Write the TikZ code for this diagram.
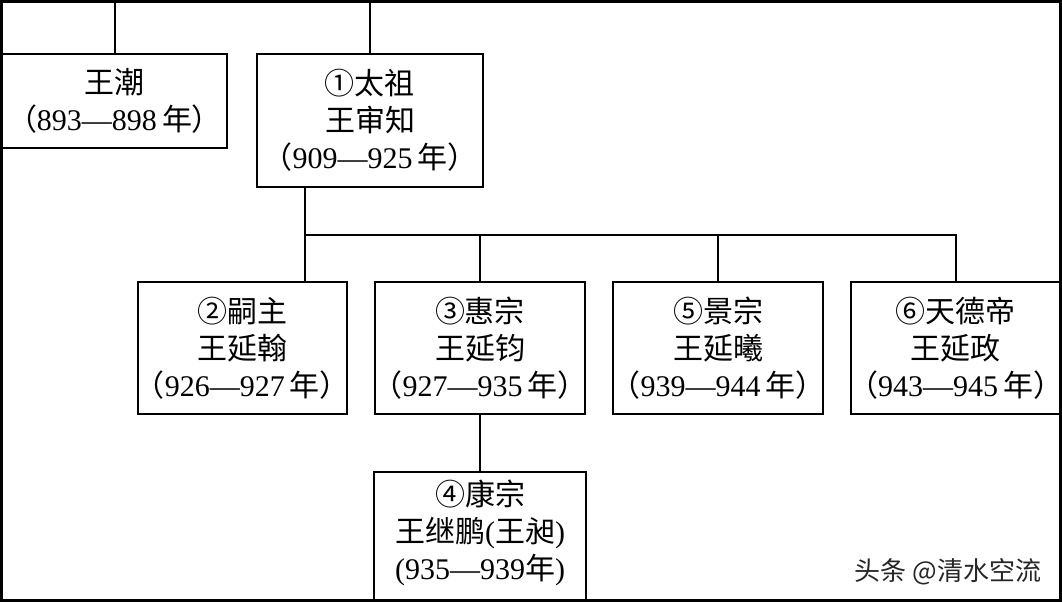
\documentclass[tikz,border=0pt]{standalone}
\usepackage{fontspec}
\setmainfont{Liberation Serif}
\newfontfamily\cjk{Noto Sans CJK SC}
\newcommand{\reign}[2]{\hspace*{-3pt}{\cjk （}#1—#2\,{\cjk 年）}\hspace*{-3pt}}

\begin{document}
\begin{tikzpicture}[x=0.5pt, y=-0.5pt,
    kingbox/.style = {draw, line width=1pt, align=center, inner xsep=1pt,
      minimum width=104.75pt, minimum height=66pt,
      font=\fontsize{15}{18.5}\selectfont},
    link/.style = {line width=1pt}]
  \useasboundingbox (0,0) rectangle (1062,602);
  \draw[line width=1.5pt] (1,1) rectangle (1060,600);
  \coordinate (top) at (0,1);
  \coordinate (trunk) at (305,235);

  % Wang Chao and Wang Shenzhi
  \node[kingbox, minimum width=112.5pt, minimum height=47pt] (wc) at (114.5,101)
    {{\cjk 王潮}\\\reign{893}{898}};
  \node[kingbox, minimum width=113pt, minimum height=66.5pt] (wsz) at (370,120.5)
    {{\cjk ①太祖}\\{\cjk 王审知}\\\reign{909}{925}};

  % the sons
  \node[kingbox] (b2) at (242.5,348) {{\cjk ②嗣主}\\{\cjk 王延翰}\\\reign{926}{927}};
  \node[kingbox] (b3) at (480,348) {{\cjk ③惠宗}\\{\cjk 王延钧}\\\reign{927}{935}};
  \node[kingbox] (b5) at (718,348) {{\cjk ⑤景宗}\\{\cjk 王延曦}\\\reign{939}{944}};
  \node[kingbox] (b6) at (955.5,348) {{\cjk ⑥天德帝}\\{\cjk 王延政}\\\reign{943}{945}};
  \node[kingbox, draw=none, minimum height=54pt] (b4) at (480,533)
    {{\cjk ④康宗}\\{\cjk 王继鹏}({\cjk 王昶})\\(935—939{\cjk 年})};
  \draw[link] (b4.north west |- 0,600) -- (b4.north west) -- (b4.north east)
    -- (b4.north east |- 0,600);

  % connectors
  \draw[link] (wc.north) -- (wc.north |- top);
  \draw[link] (wsz.north) -- (wsz.north |- top);
  \draw[link] (wsz.south -| trunk) -- (b2.north -| trunk);
  \draw[link] (trunk) -| (b6.north);
  \foreach \son in {b3,b5}
    \draw[link] (\son.north) -- (\son.north |- trunk);
  \draw[link] (b3.south) -- (b4.north);

  \node[font=\cjk\fontsize{13}{13}\selectfont, text=black!85] (mark) at (948,572)
    {头条 @清水空流};
\end{tikzpicture}
\end{document}
